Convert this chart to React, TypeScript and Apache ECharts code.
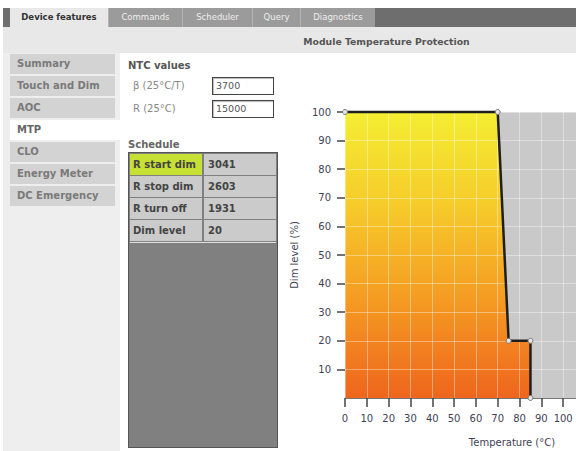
import React, { useEffect, useRef } from "react";
import * as echarts from "echarts";

const tabs = ["Device features", "Commands", "Scheduler", "Query", "Diagnostics"];
const tabLefts = [10, 108, 182, 252, 300];
const tabWidths = [98, 74, 70, 48, 75];
const sideItems = ["Summary", "Touch and Dim", "AOC", "MTP", "CLO", "Energy Meter", "DC Emergency"];
const selectedSide = 3;
const ntcLabels = ["\u03b2 (25\u00b0C/T)", "R (25\u00b0C)"];
const ntcValues = ["3700", "15000"];
const scheduleLabels = ["R start dim", "R stop dim", "R turn off", "Dim level"];
const scheduleValues = ["3041", "2603", "1931", "20"];

const curveX = [0, 70, 75, 85, 85];
const curveY = [100, 100, 20, 20, 0];
const xTicks = [0, 10, 20, 30, 40, 50, 60, 70, 80, 90, 100, 110];
const xLabelMax = 100;
const yTicks = [10, 20, 30, 40, 50, 60, 70, 80, 90, 100];

const FONT = "'DejaVu Sans', Verdana, sans-serif";

function Chart() {
  const ref = useRef<HTMLDivElement>(null);
  useEffect(() => {
    if (!ref.current) return;
    const chart = echarts.init(ref.current, null, { renderer: "svg" });
    const data = curveX.map((x, i) => [x, curveY[i]]);
    chart.setOption({
      animation: false,
      textStyle: { fontFamily: FONT },
      grid: {
        left: 65,
        top: 22,
        right: 25,
        bottom: 53,
        show: true,
        backgroundColor: "#c9c9c9",
        borderWidth: 0,
      },
      xAxis: {
        type: "value",
        min: xTicks[0],
        max: xTicks[xTicks.length - 1],
        interval: 10,
        z: 3,
        axisLine: { show: true, lineStyle: { color: "#777", width: 1 } },
        axisTick: { show: true, length: 9, lineStyle: { color: "#444", width: 1.5 } },
        axisLabel: {
          margin: 15,
          fontSize: 10,
          color: "#3f3f55",
          fontFamily: FONT,
          formatter: (v: number) => (v > xLabelMax ? "" : String(v)),
        },
        splitLine: { show: true, lineStyle: { color: "rgba(255,255,255,0.38)", width: 1 } },
      },
      yAxis: {
        type: "value",
        min: 0,
        max: 100,
        interval: 10,
        z: 3,
        name: "Dim level (%)",
        nameLocation: "middle",
        nameGap: 46,
        nameTextStyle: { fontSize: 10, color: "#3f3f55", fontFamily: FONT },
        axisLine: { show: false },
        axisTick: {
          show: true,
          length: 8,
          customValues: yTicks,
          lineStyle: { color: "#444", width: 1.5 },
        },
        axisLabel: {
          margin: 14,
          fontSize: 10,
          color: "#3f3f55",
          fontFamily: FONT,
          customValues: yTicks,
          formatter: (v: number) => (v === 0 ? "" : String(v)),
        },
        splitLine: { show: true, lineStyle: { color: "rgba(255,255,255,0.38)", width: 1 } },
      },
      graphic: [
        {
          type: "text",
          x: 232,
          y: 352,
          style: {
            text: "Temperature (\u00b0C)",
            fontSize: 10,
            fill: "#3f3f55",
            fontFamily: FONT,
            align: "center",
            verticalAlign: "middle",
          },
        },
      ],
      series: [
        {
          type: "line",
          data,
          z: 1,
          clip: false,
          symbol: "none",
          lineStyle: { width: 0 },
          areaStyle: {
            opacity: 1,
            color: new echarts.graphic.LinearGradient(0, 0, 0, 1, [
              { offset: 0, color: "#f4ee32" },
              { offset: 0.35, color: "#f6c82a" },
              { offset: 0.65, color: "#f59c22" },
              { offset: 1, color: "#ee651d" },
            ]),
          },
        },
        {
          type: "line",
          data,
          z: 5,
          clip: false,
          symbol: "circle",
          symbolSize: 5,
          lineStyle: { color: "#1e1e1e", width: 2.5 },
          itemStyle: { color: "#e6e6e6", borderColor: "#777", borderWidth: 1 },
        },
      ],
    });
    return () => chart.dispose();
  }, []);
  return (
    <div
      ref={ref}
      style={{ position: "absolute", left: 280, top: 90, width: 330, height: 361 }}
    />
  );
}

export default function App() {
  const abs = (s: React.CSSProperties): React.CSSProperties => ({ position: "absolute", ...s });
  return (
    <div
      style={{
        position: "fixed",
        left: 0,
        top: 0,
        width: 576,
        height: 451,
        overflow: "hidden",
        background: "#ffffff",
        fontFamily: FONT,
      }}
    >
      {/* tab bar */}
      <div style={abs({ left: 3, top: 8, width: 573, height: 19, background: "#6e6e6e" })} />
      {tabs.map((t, i) => (
        <div
          key={t}
          style={abs({
            left: tabLefts[i],
            top: 8,
            width: tabWidths[i],
            height: 19,
            lineHeight: "19px",
            textAlign: "center",
            fontSize: 8.5,
            fontWeight: i === 0 ? "bold" : "normal",
            color: i === 0 ? "#333" : "#eeeeee",
            background: i === 0 ? "#e8e8e8" : "#9b9b9b",
            borderLeft: i === 0 ? "none" : "1px solid #b2b2b2",
            boxSizing: "border-box",
          })}
        >
          {t}
        </div>
      ))}
      {/* header band */}
      <div style={abs({ left: 3, top: 27, width: 573, height: 26, background: "#e8e8e8" })} />
      <div
        style={abs({
          left: 300,
          top: 34,
          width: 173,
          height: 16,
          lineHeight: "16px",
          textAlign: "center",
          fontSize: 9.3,
          fontWeight: "bold",
          color: "#555",
          whiteSpace: "nowrap",
        })}
      >
        Module Temperature Protection
      </div>
      {/* left panel */}
      <div style={abs({ left: 3, top: 53, width: 117, height: 398, background: "#eeeeee" })} />
      {sideItems.map((s, i) => (
        <div
          key={s}
          style={abs({
            left: 10,
            top: 54 + i * 22,
            width: i === selectedSide ? 112 : 105,
            height: 20,
            lineHeight: "20px",
            paddingLeft: 7,
            boxSizing: "border-box",
            fontSize: 10,
            fontWeight: "bold",
            color: i === selectedSide ? "#666" : "#7a7a7a",
            background: i === selectedSide ? "#ffffff" : "#d3d3d3",
            whiteSpace: "nowrap",
          })}
        >
          {s}
        </div>
      ))}
      {/* NTC values */}
      <div style={abs({ left: 128, top: 59, fontSize: 10, fontWeight: "bold", color: "#555", lineHeight: "14px" })}>
        NTC values
      </div>
      {ntcLabels.map((l, i) => (
        <React.Fragment key={l}>
          <div
            style={abs({
              left: 133,
              top: 79 + i * 23,
              fontSize: 10,
              color: "#888",
              lineHeight: "14px",
              whiteSpace: "nowrap",
            })}
          >
            {l}
          </div>
          <div
            style={abs({
              left: 212,
              top: 77 + i * 23,
              width: 62,
              height: 18,
              boxSizing: "border-box",
              border: "1px solid #444",
              boxShadow: "inset 1px 1px 1px #bbb",
              background: "#fff",
              fontSize: 9.5,
              color: "#555",
              lineHeight: "15px",
              paddingLeft: 3,
            })}
          >
            {ntcValues[i]}
          </div>
        </React.Fragment>
      ))}
      {/* Schedule */}
      <div style={abs({ left: 128, top: 138, fontSize: 10, fontWeight: "bold", color: "#666", lineHeight: "14px" })}>
        Schedule
      </div>
      <div
        style={abs({
          left: 128,
          top: 152,
          width: 150,
          height: 296,
          boxSizing: "border-box",
          border: "1px solid #555",
          background: "#808080",
        })}
      />
      {scheduleLabels.map((l, i) => (
        <React.Fragment key={l}>
          <div
            style={abs({
              left: 130,
              top: 154 + i * 22,
              width: 72,
              height: 21,
              lineHeight: "21px",
              paddingLeft: 3,
              boxSizing: "border-box",
              fontSize: 10,
              fontWeight: "bold",
              color: "#444",
              background: i === 0 ? "#c6e033" : "#cbcbcb",
              whiteSpace: "nowrap",
            })}
          >
            {l}
          </div>
          <div
            style={abs({
              left: 204,
              top: 154 + i * 22,
              width: 72,
              height: 21,
              lineHeight: "21px",
              paddingLeft: 4,
              boxSizing: "border-box",
              fontSize: 10,
              fontWeight: "bold",
              color: "#444",
              background: "#cbcbcb",
            })}
          >
            {scheduleValues[i]}
          </div>
        </React.Fragment>
      ))}
      <div style={abs({ left: 130, top: 242, width: 146, height: 1, background: "#e0e0e0" })} />
      <Chart />
    </div>
  );
}
